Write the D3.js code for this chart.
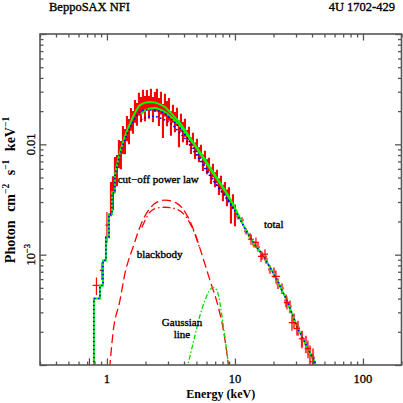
<!DOCTYPE html>
<html>
<head>
<meta charset="utf-8">
<script src="https://cdn.jsdelivr.net/npm/d3@7"></script>
<style>
  body { margin: 0; background: #fff; }
  text { font-family: "Liberation Serif", "Times New Roman", serif; fill: #000; }
</style>
</head>
<body>
<div id="chart"></div>
<script>
// ---- data (keV, photons cm^-2 s^-1 keV^-1) ----
// dense LECS/MECS spectrum
const lecsE = [1.075,1.114,1.155,1.197,1.241,1.286,1.334,1.383,1.433,1.486,1.540,1.597,1.655,1.716,1.778,1.844,1.911,1.981,2.054,2.129,2.207,2.288,2.371,2.458,2.548,2.642,2.738,2.839,2.943,3.050,3.162,3.278,3.398,3.523,3.652,3.786,3.924,4.068,4.217,4.372,4.532,4.698,4.870,5.048,5.233,5.425,5.623,5.829,6.043,6.264,6.494,6.732,6.978,7.234,7.499,7.774,8.058,8.354,8.660,8.977,9.306,9.647,10.0];
const lecsF = [3.39e-3,3.84e-3,5.84e-3,6.09e-3,8.51e-3,8.33e-3,0.01141,0.01094,0.01437,0.01349,0.01734,0.01628,0.0205,0.01925,0.02374,0.02138,0.02527,0.02183,0.02581,0.02229,0.02636,0.02138,0.02475,0.02581,0.0205,0.02424,0.01734,0.02325,0.01966,0.02138,0.01595,0.01925,0.01628,0.01808,0.01294,0.01595,0.01321,0.01437,0.01165,0.01267,9.85e-3,0.01117,8.88e-3,9.85e-3,8.16e-3,8.69e-3,6.90e-3,7.67e-3,6.35e-3,6.62e-3,5.26e-3,5.84e-3,4.84e-3,5.15e-3,4.18e-3,4.54e-3,3.68e-3,4.00e-3,3.32e-3,3.53e-3,2.53e-3,3.05e-3,2.33e-3];
const lecsErr = [1.16e-3,1.31e-3,1.83e-3,1.91e-3,2.43e-3,2.37e-3,3.25e-3,2.83e-3,3.72e-3,3.49e-3,4.04e-3,3.79e-3,4.78e-3,4.49e-3,5.53e-3,5.54e-3,5.89e-3,5.65e-3,5.34e-3,5.19e-3,5.46e-3,5.54e-3,5.12e-3,6.01e-3,5.84e-3,5.65e-3,5.91e-3,5.42e-3,5.09e-3,4.98e-3,3.99e-3,3.59e-3,3.38e-3,3.37e-3,3.53e-3,2.98e-3,2.74e-3,2.68e-3,1.81e-3,1.77e-3,1.69e-3,1.56e-3,1.52e-3,1.38e-3,1.27e-3,1.21e-3,1.18e-3,1.07e-3,0.98e-3,0.92e-3,0.90e-3,0.82e-3,0.75e-3,0.72e-3,0.71e-3,0.64e-3,0.63e-3,0.56e-3,0.57e-3,0.55e-3,0.61e-3,0.47e-3,0.52e-3];

// low energy LECS bins
const lowE = [0.730, 0.828, 0.914, 1.0];
const lowDE = [0.012, 0.054, 0.034, 0.027];
const lowF = [0.9e-4, 5.26e-4, 7.2e-4, 1.85e-3];
const lowErr = [0.25e-4, 0.96e-4, 1.3e-4, 5.8e-4];

// HPGSPC bins
const hpE = [10.55,11.34,12.19,13.10,14.08,15.13,16.26,17.47,18.78,20.17,21.68,23.29,25.03,26.90,28.90,31.06,33.36,35.86,38.53,40.68];
const hpDE = [0.38,0.41,0.44,0.47,0.51,0.55,0.59,0.63,0.68,0.73,0.78,0.84,0.90,0.97,1.04,1.12,1.20,1.29,1.39,1.46];
const hpF = [2.23e-3,2.05e-3,1.63e-3,1.47e-3,1.24e-3,1.17e-3,9.85e-4,9.06e-4,7.35e-4,6.90e-4,5.48e-4,4.94e-4,3.84e-4,3.39e-4,2.53e-4,2.18e-4,1.73e-4,1.56e-4,1.24e-4,1.17e-4];
const hpErr = [1.45e-4,1.33e-4,1.06e-4,0.96e-4,0.81e-4,1.02e-4,0.86e-4,0.79e-4,0.64e-4,0.76e-4,0.60e-4,0.54e-4,0.51e-4,0.45e-4,0.40e-4,0.34e-4,0.31e-4,0.28e-4,0.26e-4,0.24e-4];

// PDS bins
const pdsE = [13.34,14.59,15.97,17.16,20.91,25.48,27.87,30.49,33.36,37.18,40.68];
const pdsDE = [0.73,0.80,0.88,0.95,1.56,1.40,1.53,1.68,1.83,2.04,2.24];
const pdsF = [1.38e-3,1.29e-3,9.65e-4,1.01e-3,6.35e-4,3.68e-4,2.42e-4,2.14e-4,1.73e-4,1.41e-4,1.07e-4];
const pdsErr = [1.5e-4,1.4e-4,1.06e-4,1.1e-4,0.85e-4,0.49e-4,0.38e-4,0.29e-4,0.27e-4,0.26e-4,0.19e-4];

// total model (LECS normalisation)
const totE = [0.789,0.791,0.882,0.931,0.982,1.037,1.094,1.155,1.219,1.286,1.358,1.433,1.512,1.597,1.685,1.778,1.876,2.017,2.167,2.371,2.594,2.839,3.106,3.398,3.718,4.217,4.698,5.33,5.935,6.732,7.636,8.66,9.647,10.94,11.97,13.10,14.62,16.55,18.78,21.29,23.29,25.48,27.87,30.49,33.36,36.52,39.23,42.17,44.5];
const totF = [5e-5,4.01e-4,5.26e-4,8.87e-4,1.44e-3,2.33e-3,3.68e-3,5.26e-3,7.20e-3,9.06e-3,0.01117,0.01321,0.0153,0.01771,0.02008,0.02229,0.02325,0.02399,0.02424,0.02399,0.02301,0.02183,0.01966,0.01752,0.01562,0.01267,0.01049,8.51e-3,7.05e-3,5.60e-3,4.50e-3,3.61e-3,2.87e-3,2.14e-3,1.73e-3,1.44e-3,1.19e-3,9.85e-4,7.67e-4,5.96e-4,4.74e-4,3.84e-4,2.93e-4,2.23e-4,1.81e-4,1.47e-4,1.24e-4,1.05e-4,7e-5];
// total model (MECS normalisation)
const mecE = [1.844,2.017,2.167,2.371,2.594,2.839,3.106,3.398,3.718,4.217,4.698,5.33,6.732,8.66,10.37];
const mecF = [0.01886,0.0205,0.02116,0.02138,0.02072,0.01966,0.01808,0.01628,0.01467,0.01215,0.01028,8.33e-3,5.48e-3,3.53e-3,2.42e-3];

// cut-off power law components
const cpl1E = totE.slice(0, 33);
const cpl1F = [5e-5,4.01e-4,5.26e-4,8.87e-4,1.44e-3,2.33e-3,3.61e-3,5.15e-3,6.90e-3,8.69e-3,0.01049,0.01241,0.01406,0.01595,0.01771,0.01925,0.02008,0.0205,0.0205,0.0205,0.01987,0.01905,0.01734,0.01578,0.01406,0.01153,9.45e-3,7.51e-3,6.09e-3,4.84e-3,3.88e-3,3.18e-3,2.64e-3];
const cpl2E = [1.844,2.017,2.167,2.371,2.594,2.839,3.106,3.398,3.718,4.217,4.698,5.33,5.935,6.732,7.636,8.66,9.647,10.94,11.97,13.10,14.62,16.55,18.78,21.29,23.29,25.48,27.87,30.49,33.36,36.52,39.23,42.17,44.5];
const cpl2F = [0.01663,0.01752,0.01789,0.01789,0.01734,0.01663,0.01562,0.01421,0.01267,0.01072,8.88e-3,7.20e-3,5.84e-3,4.74e-3,3.92e-3,3.25e-3,2.69e-3,2.09e-3,1.73e-3,1.44e-3,1.19e-3,9.85e-4,7.67e-4,5.96e-4,4.74e-4,3.84e-4,2.93e-4,2.23e-4,1.81e-4,1.47e-4,1.24e-4,1.05e-4,7e-5];

// blackbody components
const bb1E = [1.03,1.114,1.264,1.383,1.596,1.876,2.167,2.46,2.84,3.52,4.22,4.87,5.33,6.38,7.36,8.06,8.81,9.1];
const bb1F = [7e-5,1.93e-4,3.85e-4,6.76e-4,1.16e-3,1.97e-3,2.63e-3,2.99e-3,3.12e-3,2.92e-3,2.27e-3,1.56e-3,1.14e-3,5.85e-4,3.46e-4,2.18e-4,1.09e-4,8e-5];
const bb2E = [1.876,2.167,2.46,2.84,3.52,4.22,4.87,5.33];
const bb2F = [1.77e-3,2.43e-3,2.64e-3,2.69e-3,2.58e-3,2.14e-3,1.53e-3,1.12e-3];

// Gaussian line
const gE = [4.2,4.87,5.33,5.83,6.26,6.73,7.23,7.64,8.06,8.51,9.0];
const gF = [9e-5,1.85e-4,2.81e-4,3.85e-4,4.64e-4,5.05e-4,4.74e-4,3.61e-4,2.38e-4,1.5e-4,9e-5];

// ticks
const xMajor = [1, 10, 100];
const xMinor = [0.3,0.4,0.5,0.6,0.7,0.8,0.9,2,3,4,5,6,7,8,9,20,30,40,50,60,70,80,90,200];
const yMajor = [1e-4, 1e-3, 1e-2, 1e-1];
const yMinor = [2e-4,3e-4,4e-4,5e-4,6e-4,7e-4,8e-4,9e-4,2e-3,3e-3,4e-3,5e-3,6e-3,7e-3,8e-3,9e-3,0.02,0.03,0.04,0.05,0.06,0.07,0.08,0.09];

const notes = [
  {t: "cut\u2212off power law", e: 1.212, f: 4.44e-3, anchor: "start"},
  {t: "total", e: 16.84, f: 1.73e-3, anchor: "start"},
  {t: "blackbody", e: 1.706, f: 9.26e-4, anchor: "start"},
  {t: "Gaussian", e: 3.857, f: 2.28e-4, anchor: "middle"},
  {t: "line", e: 3.857, f: 1.77e-4, anchor: "middle"}
];

// ---- layout ----
const W = 403, H = 403;
const pL = 40, pR = 401.5, pT = 34, pB = 365;

const svg = d3.select("#chart").append("svg")
    .attr("width", W).attr("height", H);

const x = d3.scaleLog().domain([0.3, 200]).range([pL, pR]);
const y = d3.scaleLog().domain([1e-4, 0.1]).range([pB, pT]);

svg.append("clipPath").attr("id", "clip")
  .append("rect").attr("x", pL).attr("y", pT)
  .attr("width", pR - pL).attr("height", pB - pT);

const plot = svg.append("g").attr("clip-path", "url(#clip)");

const zip = (a, b) => a.map((v, i) => [v, b[i]]);
const line = d3.line().x(d => x(d[0])).y(d => y(d[1]));

// dense data band
plot.append("g").selectAll("line")
  .data(zip(lecsE, lecsF).map((d, i) => [d[0], d[1], lecsErr[i]]))
  .join("line")
    .attr("x1", d => x(d[0])).attr("x2", d => x(d[0]))
    .attr("y1", d => y(d[1] + d[2])).attr("y2", d => y(Math.max(d[1] - d[2], 1e-6)))
    .attr("stroke", "#ff0000").attr("stroke-width", 2.1);

// crosses helper
function crosses(g, E, dE, F, dF, color, w) {
  const pts = E.map((e, i) => ({e: e, de: dE[i], f: F[i], df: dF[i]}));
  const gg = g.append("g").attr("stroke", color).attr("stroke-width", w);
  gg.selectAll(".v").data(pts).join("line").attr("class", "v")
    .attr("x1", d => x(d.e)).attr("x2", d => x(d.e))
    .attr("y1", d => y(d.f + d.df)).attr("y2", d => y(d.f - d.df));
  gg.selectAll(".h").data(pts).join("line").attr("class", "h")
    .attr("x1", d => x(d.e - d.de)).attr("x2", d => x(d.e + d.de))
    .attr("y1", d => y(d.f)).attr("y2", d => y(d.f));
}

crosses(plot, lowE, lowDE, lowF, lowErr, "#ff0000", 1.2);
crosses(plot, hpE, hpDE, hpF, hpErr, "#ff5050", 2.2);

// blackbody
plot.append("path").datum(zip(bb1E, bb1F))
  .attr("d", line.curve(d3.curveMonotoneX))
  .attr("fill", "none").attr("stroke", "#ff0000").attr("stroke-width", 1.3)
  .attr("stroke-dasharray", "9,4");
plot.append("path").datum(zip(bb2E, bb2F))
  .attr("d", line.curve(d3.curveMonotoneX))
  .attr("fill", "none").attr("stroke", "#ff0000").attr("stroke-width", 1.3)
  .attr("stroke-dasharray", "8,3,1.5,3");

// gaussian
plot.append("path").datum(zip(gE, gF))
  .attr("d", line.curve(d3.curveMonotoneX))
  .attr("fill", "none").attr("stroke", "#00dd00").attr("stroke-width", 1.3)
  .attr("stroke-dasharray", "5,2,1.5,2");

// total models
const totPts = zip(totE, totF);
plot.append("path").datum(totPts.slice(0, 8))
  .attr("d", line.curve(d3.curveStepAfter))
  .attr("fill", "none").attr("stroke", "#00ff00").attr("stroke-width", 2);
plot.append("path").datum(totPts.slice(7))
  .attr("d", line.curve(d3.curveLinear))
  .attr("fill", "none").attr("stroke", "#00ff00").attr("stroke-width", 2);
plot.append("path").datum(zip(mecE, mecF))
  .attr("d", line.curve(d3.curveMonotoneX))
  .attr("fill", "none").attr("stroke", "#00ff00").attr("stroke-width", 2);

// cut-off power law
const cpl1 = zip(cpl1E, cpl1F);
plot.append("path").datum(cpl1.slice(0, 8))
  .attr("d", line.curve(d3.curveStepAfter))
  .attr("fill", "none").attr("stroke", "#0000ff").attr("stroke-width", 1.6)
  .attr("stroke-dasharray", "1.6,2.4");
plot.append("path").datum(cpl1.slice(7))
  .attr("d", line.curve(d3.curveMonotoneX))
  .attr("fill", "none").attr("stroke", "#0000ff").attr("stroke-width", 1.6)
  .attr("stroke-dasharray", "1.6,2.4");
plot.append("path").datum(zip(cpl2E, cpl2F))
  .attr("d", line.curve(d3.curveMonotoneX))
  .attr("fill", "none").attr("stroke", "#0000ff").attr("stroke-width", 1.6)
  .attr("stroke-dasharray", "1.6,2.4");

crosses(plot, pdsE, pdsDE, pdsF, pdsErr, "#ff0000", 1.2);

// ---- axes ----
const axCol = "#555";
function ticks(axis, vals, len, tr) {
  const g = svg.append("g").attr("transform", tr)
    .call(axis.tickValues(vals).tickSize(-len).tickFormat(""));
  g.select(".domain").remove();
  g.selectAll(".tick line").attr("stroke", axCol).attr("stroke-width", 1.3);
}
ticks(d3.axisBottom(x), xMajor, 6.5, `translate(0,${pB})`);
ticks(d3.axisBottom(x), xMinor, 3.5, `translate(0,${pB})`);
ticks(d3.axisTop(x), xMajor, 6.5, `translate(0,${pT})`);
ticks(d3.axisTop(x), xMinor, 3.5, `translate(0,${pT})`);
ticks(d3.axisLeft(y), yMajor, 6.5, `translate(${pL},0)`);
ticks(d3.axisLeft(y), yMinor, 3.5, `translate(${pL},0)`);
ticks(d3.axisRight(y), yMajor, 6.5, `translate(${pR},0)`);
ticks(d3.axisRight(y), yMinor, 3.5, `translate(${pR},0)`);

svg.append("rect").attr("x", pL).attr("y", pT)
  .attr("width", pR - pL).attr("height", pB - pT)
  .attr("fill", "none").attr("stroke", axCol).attr("stroke-width", 1.6);

// tick labels
svg.append("g").selectAll("text").data(xMajor).join("text")
  .attr("x", d => x(d)).attr("y", 383)
  .attr("text-anchor", "middle")
  .attr("font-size", 12.5).attr("stroke", "#000").attr("stroke-width", 0.3)
  .text(d => d);

svg.append("text")
  .attr("transform", `translate(35,${y(0.01)}) rotate(-90)`)
  .attr("text-anchor", "middle").attr("font-size", 12.5)
  .attr("stroke", "#000").attr("stroke-width", 0.3)
  .text("0.01");
const t3 = svg.append("text")
  .attr("transform", `translate(35,${y(1e-3)}) rotate(-90)`)
  .attr("text-anchor", "middle").attr("font-size", 12.5)
  .attr("stroke", "#000").attr("stroke-width", 0.3);
t3.append("tspan").text("10");
t3.append("tspan").attr("dy", -5).attr("font-size", 8.5).text("\u22123");

// axis titles
svg.append("text").attr("x", (pL + pR) / 2).attr("y", 398)
  .attr("text-anchor", "middle").attr("font-size", 12).attr("font-weight", "bold")
  .text("Energy (keV)");

const yt = svg.append("text")
  .attr("transform", "translate(15,190) rotate(-90)")
  .attr("text-anchor", "middle").attr("font-size", 14).attr("font-weight", "bold");
yt.append("tspan").text("Photon");
yt.append("tspan").attr("dx", 5).text(" cm");
yt.append("tspan").attr("dy", -6).attr("font-size", 9.5).text("\u22122");
yt.append("tspan").attr("dy", 6).attr("dx", 5).text(" s");
yt.append("tspan").attr("dy", -6).attr("font-size", 9.5).text("\u22121");
yt.append("tspan").attr("dy", 6).attr("dx", 5).text(" keV");
yt.append("tspan").attr("dy", -6).attr("font-size", 9.5).text("\u22121");

// header
svg.append("text").attr("x", 49).attr("y", 11).attr("font-size", 12.5)
  .attr("stroke", "#000").attr("stroke-width", 0.35)
  .text("BeppoSAX NFI");
svg.append("text").attr("x", 395).attr("y", 11).attr("font-size", 12.5)
  .attr("text-anchor", "end").attr("stroke", "#000").attr("stroke-width", 0.35)
  .text("4U 1702-429");

// annotations
svg.append("g").selectAll("text").data(notes).join("text")
  .attr("x", d => x(d.e)).attr("y", d => y(d.f))
  .attr("text-anchor", d => d.anchor)
  .attr("font-size", 11).attr("stroke", "#000").attr("stroke-width", 0.35)
  .text(d => d.t);
</script>
</body>
</html>
